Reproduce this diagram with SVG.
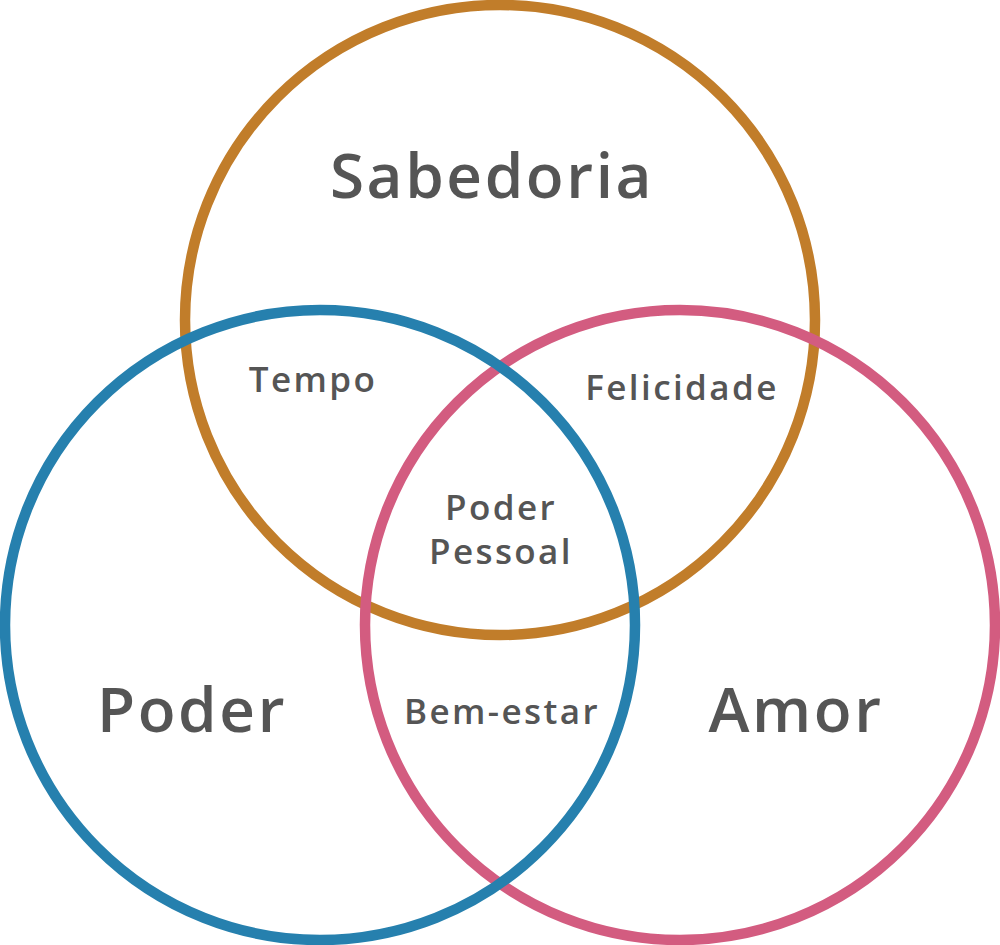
<svg xmlns="http://www.w3.org/2000/svg" width="1000" height="945" viewBox="0 0 1000 945">
<style>
.c{fill:none;stroke-width:10.5}
.t{font-family:"Open Sans","Liberation Sans",sans-serif;fill:#555555;text-anchor:middle;font-weight:600}
.big{font-size:62px;letter-spacing:2.6px}
.small{font-size:35px;letter-spacing:2.4px}
</style>
<rect width="1000" height="945" fill="#ffffff"/>
<g id="circle-sabedoria"><circle class="c" cx="500" cy="320" r="315" stroke="#C17D2A"/></g>
<g id="circle-amor"><circle class="c" cx="680" cy="625" r="315" stroke="#D35C80"/></g>
<g id="circle-poder"><circle class="c" cx="320" cy="625" r="315" stroke="#2680AE"/></g>
<g id="labels">
<text class="t big" x="492" y="198">Sabedoria</text>
<text class="t big" x="192" y="732">Poder</text>
<text class="t big" x="796" y="732">Amor</text>
<text class="t small" x="313" y="392">Tempo</text>
<text class="t small" x="682" y="400">Felicidade</text>
<text class="t small" x="501" y="520">Poder</text>
<text class="t small" x="501" y="564">Pessoal</text>
<text class="t small" x="502" y="724">Bem-estar</text>
</g>
</svg>
